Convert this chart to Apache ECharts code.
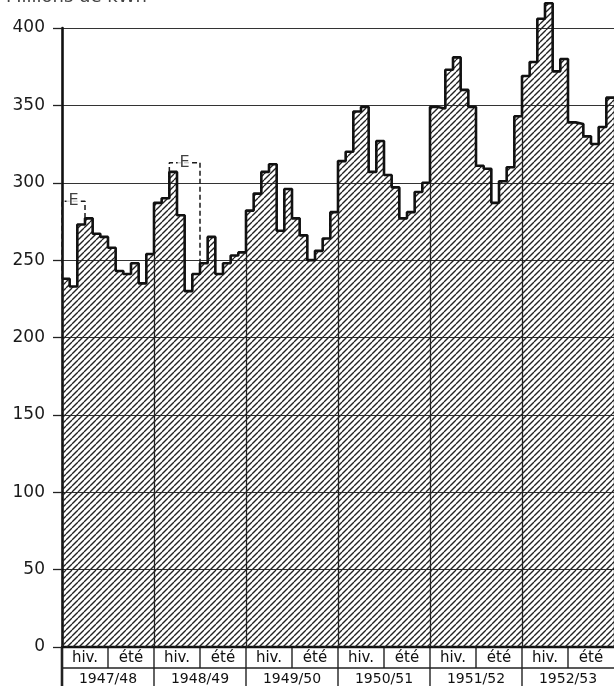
<!DOCTYPE html>
<html>
<head>
<meta charset="utf-8">
<script src="https://cdn.jsdelivr.net/npm/echarts@6/dist/echarts.min.js"></script>
<style>
html,body{margin:0;padding:0;background:#fff;}
#c{width:614px;height:686px;}
</style>
</head>
<body>
<div id="c"></div>
<script>
// ---- data ----
const unitLabel = 'Millions de kWh';
const years = ['1947/48', '1948/49', '1949/50', '1950/51', '1951/52', '1952/53'];
const seasons = ['hiv.', 'été'];
const yTicks = [0, 50, 100, 150, 200, 250, 300, 350, 400];
// monthly values (Oct .. Sep) per hydrological year
const v1947 = [238, 233, 273, 277, 267, 265, 258, 243, 241, 248, 235, 254];
const v1948 = [287, 290, 307, 279, 230, 241, 248, 265, 241, 248, 253, 255];
const v1949 = [282, 293, 307, 312, 269, 296, 277, 266, 250, 256, 264, 281];
const v1950 = [314, 320, 346, 349, 307, 327, 305, 297, 277, 281, 294, 300];
const v1951 = [349, 348, 373, 381, 360, 349, 311, 309, 287, 301, 310, 343];
const v1952 = [369, 378, 406, 416, 372, 380, 339, 338, 330, 325, 336, 355];
// "E" brackets: start month index, end month index, level
const eStart = [0, 14];
const eEnd = [3, 18];
const eLevel = [288, 313];
const eText = 'E';

// ---- build ----
const values = [].concat(v1947, v1948, v1949, v1950, v1951, v1952);
const perYear = values.length / years.length;
const months = values.length;
const stepData = values.map((v, i) => [i, v]);
stepData.push([months, values[months - 1]]);

function hatchPattern() {
  const s = 6;
  const c = document.createElement('canvas');
  c.width = s; c.height = s;
  const g = c.getContext('2d');
  g.strokeStyle = '#222';
  g.lineWidth = 1.35;
  for (const off of [-s, 0, s]) {
    g.beginPath();
    g.moveTo(off, s);
    g.lineTo(off + s, 0);
    g.stroke();
  }
  return c;
}

const dividerLines = [];
for (let k = 1; k <= years.length; k++) {
  const x = k * perYear;
  const top = k < years.length ? Math.min(values[x - 1], values[x]) : values[x - 1];
  dividerLines.push([{ coord: [x, 0] }, { coord: [x, top] }]);
}

const bracketSeries = eStart.map((s, i) => ({
  type: 'line',
  data: [[s, values[s]], [s, eLevel[i]], [eEnd[i], eLevel[i]], [eEnd[i], values[eEnd[i]]]],
  symbol: 'none',
  clip: false,
  lineStyle: { color: '#1a1a1a', width: 1.5, type: [5, 3] },
  z: 4,
  silent: true
}));

const labelSeries = {
  type: 'scatter',
  data: eStart.map((s, i) => [(s + eEnd[i]) / 2, eLevel[i]]),
  symbolSize: 1,
  itemStyle: { color: 'rgba(0,0,0,0)' },
  clip: false,
  z: 6,
  label: {
    show: true,
    position: 'inside',
    formatter: eText,
    fontFamily: 'DejaVu Sans',
    fontSize: 16,
    color: '#111',
    backgroundColor: '#fff',
    padding: [0, 2]
  },
  silent: true
};

const FONT = 'DejaVu Sans';
const chart = echarts.init(document.getElementById('c'), null, { renderer: 'canvas' });
const option = {
  animation: false,
  backgroundColor: '#fff',
  grid: { left: 62, right: -2, top: 28, bottom: 39, containLabel: false },
  xAxis: {
    type: 'value',
    min: 0,
    max: months,
    interval: perYear,
    axisLine: { show: true, onZero: false, lineStyle: { color: '#111', width: 2.4 } },
    axisTick: { show: false },
    axisLabel: { show: false },
    splitLine: { show: false }
  },
  yAxis: {
    type: 'value',
    min: yTicks[0],
    max: yTicks[yTicks.length - 1],
    interval: yTicks[1] - yTicks[0],
    axisLine: { show: true, lineStyle: { color: '#111', width: 2.6 } },
    axisTick: { show: true, length: 9, lineStyle: { color: '#222', width: 1.3 } },
    axisLabel: { fontFamily: FONT, fontSize: 17, color: '#1a1a1a', margin: 17 },
    splitLine: { show: true, lineStyle: { color: '#333', width: 1.2 } }
  },
  series: [
    {
      type: 'line',
      step: 'end',
      data: stepData,
      symbol: 'none',
      clip: false,
      lineStyle: { color: '#111', width: 2.6 },
      areaStyle: { color: { image: hatchPattern(), repeat: 'repeat' }, opacity: 1, origin: 'start' },
      z: 3,
      silent: true,
      markLine: {
        silent: true,
        symbol: 'none',
        label: { show: false },
        lineStyle: { color: '#222', width: 1.3, type: 'solid' },
        data: dividerLines
      }
    },
    ...bracketSeries,
    labelSeries
  ]
};
chart.setOption(option);

// ---- bottom table & unit label, positioned with the axis scales ----
const px = (x, y) => chart.convertToPixel({ gridIndex: 0 }, [x, y]);
const [xL, y0] = px(0, 0);
const xR = px(months, 0)[0];
const rowH = 21;
const els = [];
els.push({ type: 'line', shape: { x1: xL, y1: y0 + rowH, x2: xR, y2: y0 + rowH }, style: { stroke: '#222', lineWidth: 1.4 } });
years.forEach((yr, k) => {
  const xa = px(k * perYear, 0)[0];
  const xm = px(k * perYear + perYear / 2, 0)[0];
  els.push({ type: 'line', shape: { x1: xa, y1: y0, x2: xa, y2: y0 + 2 * rowH + 6 }, style: { stroke: '#222', lineWidth: k === 0 ? 2.6 : 1.4 } });
  els.push({ type: 'line', shape: { x1: xm, y1: y0, x2: xm, y2: y0 + rowH }, style: { stroke: '#222', lineWidth: 1.4 } });
  seasons.forEach((s, j) => {
    els.push({
      type: 'text',
      x: px(k * perYear + perYear / 4 + j * perYear / 2, 0)[0],
      y: y0 + rowH / 2 + 1,
      style: { text: s, fontFamily: FONT, fontSize: 15, fill: '#111', align: 'center', verticalAlign: 'middle' }
    });
  });
  els.push({
    type: 'text',
    x: xm,
    y: y0 + rowH * 1.5 + 1,
    style: { text: yr, fontFamily: FONT, fontSize: 14, fill: '#111', align: 'center', verticalAlign: 'middle' }
  });
});
els.push({
  type: 'text',
  x: 6,
  y: 6,
  style: { text: unitLabel, fontFamily: FONT, fontSize: 18, fill: '#444', align: 'left', verticalAlign: 'bottom' }
});
chart.setOption({ graphic: { elements: els } });
</script>
</body>
</html>
